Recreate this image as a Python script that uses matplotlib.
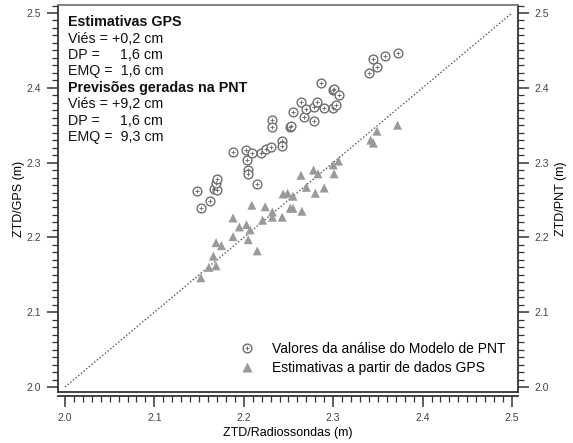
import matplotlib
matplotlib.use("Agg")
import matplotlib.pyplot as plt
from matplotlib.lines import Line2D
from matplotlib.ticker import MultipleLocator, FormatStrFormatter
from matplotlib.legend_handler import HandlerTuple

plt.rcParams['font.family'] = ['Liberation Sans', 'DejaVu Sans']

# Valores da análise do Modelo de PNT (circles)
pnt_x = [2.148, 2.152, 2.162, 2.167, 2.170, 2.169, 2.170, 2.188, 2.202, 2.204,
         2.209, 2.219, 2.225, 2.205, 2.205, 2.215, 2.231, 2.243, 2.243, 2.232,
         2.232, 2.252, 2.253, 2.255, 2.267, 2.264, 2.270, 2.278, 2.279, 2.282,
         2.290, 2.286, 2.300, 2.301, 2.300, 2.303, 2.307, 2.340, 2.344, 2.349,
         2.358, 2.372]
pnt_y = [2.262, 2.239, 2.249, 2.265, 2.263, 2.273, 2.278, 2.314, 2.317, 2.303,
         2.313, 2.313, 2.318, 2.290, 2.285, 2.271, 2.321, 2.329, 2.322, 2.357,
         2.348, 2.348, 2.349, 2.368, 2.361, 2.381, 2.372, 2.374, 2.356, 2.381,
         2.373, 2.406, 2.397, 2.398, 2.373, 2.377, 2.390, 2.420, 2.439, 2.428,
         2.443, 2.447]

# Estimativas a partir de dados GPS (triangles)
gps_x = [2.152, 2.161, 2.169, 2.166, 2.169, 2.175, 2.188, 2.188, 2.195, 2.203,
         2.207, 2.205, 2.215, 2.209, 2.224, 2.232, 2.221, 2.243, 2.252, 2.255,
         2.265, 2.244, 2.249, 2.255, 2.270, 2.280, 2.290, 2.264, 2.278, 2.283,
         2.300, 2.301, 2.306, 2.342, 2.345, 2.349, 2.372, 2.232]
gps_y = [2.146, 2.160, 2.162, 2.175, 2.193, 2.189, 2.226, 2.201, 2.214, 2.217,
         2.210, 2.197, 2.182, 2.243, 2.241, 2.227, 2.223, 2.227, 2.239, 2.239,
         2.235, 2.258, 2.259, 2.255, 2.267, 2.259, 2.266, 2.283, 2.290, 2.285,
         2.297, 2.285, 2.302, 2.330, 2.326, 2.342, 2.350, 2.234]

stats_lines = [
    ("Estimativas GPS", True),
    ("Viés = +0,2 cm", False),
    ("DP =     1,6 cm", False),
    ("EMQ =  1,6 cm", False),
    ("Previsões geradas na PNT", True),
    ("Viés = +9,2 cm", False),
    ("DP =     1,6 cm", False),
    ("EMQ =  9,3 cm", False),
]

CIRC_COLOR = "#6e6e6e"
TRI_COLOR = "#9a9a9a"
FRAME = "#333333"
TICKLBL = "#444444"

fig = plt.figure(figsize=(5.73, 4.43), dpi=100)
ax = fig.add_axes([0.1012, 0.1151, 0.8028, 0.8736])

ax.plot([2.0, 2.5], [2.0, 2.5], linestyle=(0, (1, 1.5)), color="#555555", lw=1.0, zorder=1)

ax.scatter(gps_x, gps_y, marker="^", s=42, color=TRI_COLOR, edgecolors="none", zorder=2)
ax.scatter(pnt_x, pnt_y, marker="o", s=40, facecolors="white", edgecolors=CIRC_COLOR,
           linewidths=1.0, zorder=3)
ax.scatter(pnt_x, pnt_y, marker="+", s=12, color=CIRC_COLOR, linewidths=0.7, zorder=4)

ax.set_xlim(1.9922, 2.5067)
ax.set_ylim(1.9933, 2.5107)

for side in ["top", "right", "left", "bottom"]:
    ax.spines[side].set_color(FRAME)
    ax.spines[side].set_linewidth(1.3)
ax.spines["top"].set_color("#777777")
ax.spines["bottom"].set_position(("outward", 3))
ax.plot([0, 1], [0, 0], transform=ax.transAxes, color=FRAME, lw=1.3, clip_on=False)

fmt = FormatStrFormatter("%.1f")
ax.xaxis.set_major_locator(MultipleLocator(0.1))
ax.xaxis.set_minor_locator(MultipleLocator(0.01))
ax.yaxis.set_major_locator(MultipleLocator(0.1))
ax.yaxis.set_minor_locator(MultipleLocator(0.01))
ax.xaxis.set_major_formatter(fmt)
ax.yaxis.set_major_formatter(fmt)
ax.tick_params(which="major", direction="out", length=8, width=1.1, color=FRAME,
               labelsize=7.5, labelcolor=TICKLBL, pad=4)
ax.tick_params(which="minor", direction="out", length=4, width=0.9, color=FRAME)
ax.tick_params(top=False, which="both")

ax2 = ax.twinx()
ax2.set_ylim(ax.get_ylim())
ax2.yaxis.set_major_locator(MultipleLocator(0.1))
ax2.yaxis.set_minor_locator(MultipleLocator(0.01))
ax2.yaxis.set_major_formatter(fmt)
ax2.tick_params(which="major", direction="out", length=8, width=1.1, color=FRAME,
                labelsize=7.5, labelcolor=TICKLBL, pad=4)
ax2.tick_params(which="minor", direction="out", length=4, width=0.9, color=FRAME)
for side in ["top", "right", "left", "bottom"]:
    ax2.spines[side].set_visible(False)

ax.set_xlabel("ZTD/Radiossondas (m)", fontsize=9, labelpad=3)
ax.set_ylabel("ZTD/GPS (m)", fontsize=9, labelpad=1)
ax2.set_ylabel("ZTD/PNT (m)", fontsize=9, labelpad=4)

y0 = 0.956
for i, (txt, bold) in enumerate(stats_lines):
    ax.text(0.022, y0 - i * 0.0426, txt, transform=ax.transAxes, fontsize=10.3,
            fontweight="bold" if bold else "normal", va="center", ha="left", color="#111111")

h_circ = Line2D([], [], marker="o", linestyle="none", markersize=6.3,
                markerfacecolor="white", markeredgecolor=CIRC_COLOR, markeredgewidth=1.0)
h_plus = Line2D([], [], marker="+", linestyle="none", markersize=3.5,
                markeredgecolor=CIRC_COLOR, markeredgewidth=0.7)
h_tri = Line2D([], [], marker="^", linestyle="none", markersize=6.8,
               markerfacecolor=TRI_COLOR, markeredgecolor="none")
ax.legend([(h_circ, h_plus), h_tri],
          ["Valores da análise do Modelo de PNT", "Estimativas a partir de dados GPS"],
          handler_map={tuple: HandlerTuple(ndivide=1)},
          loc="lower right", bbox_to_anchor=(1.0, 0.012), frameon=False,
          fontsize=10, handlelength=1.0, handletextpad=1.3, labelspacing=0.35)

fig.savefig("out.png", dpi=100)
